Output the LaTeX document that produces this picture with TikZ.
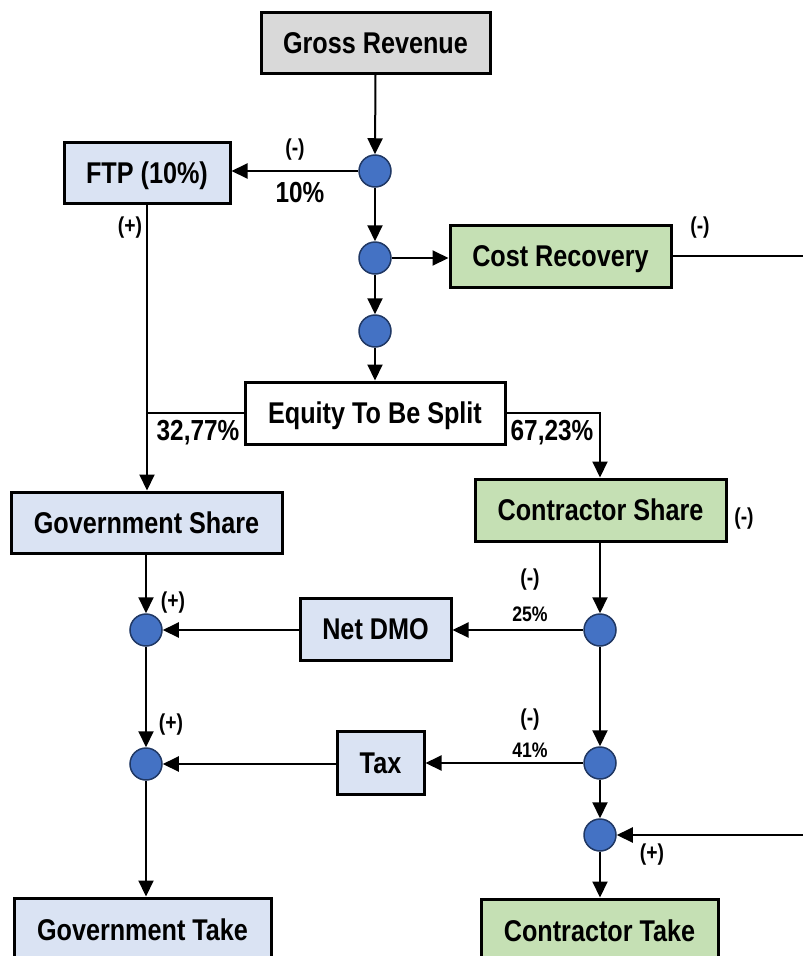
\documentclass[tikz,border=0pt]{standalone}
\usepackage{fontspec}
\setmainfont{Liberation Sans}[FakeStretch=0.84]
\usetikzlibrary{arrows.meta}
\definecolor{boxgray}{HTML}{D9D9D9}
\definecolor{boxblue}{HTML}{DAE3F3}
\definecolor{boxgreen}{HTML}{C5E0B4}
\definecolor{dotblue}{HTML}{4472C4}
\definecolor{dotedge}{HTML}{203864}
\begin{document}
\begin{tikzpicture}[x=1pt,y=-1pt,
  box/.style={draw=black, line width=3pt, inner sep=0pt, text height=21.5pt, text depth=0pt,
    font=\fontsize{30}{30}\selectfont\bfseries},
  dot/.style={circle, draw=dotedge, line width=1.5pt, fill=dotblue, minimum size=32pt, inner sep=0pt},
  link/.style={line width=2pt, -{Triangle[length=16pt,width=15pt]}},
  plain/.style={line width=2pt},
  small/.style={font=\fontsize{23}{23}\selectfont\bfseries, inner sep=0pt},
  pct/.style={font=\fontsize{21}{21}\selectfont\bfseries, inner sep=0pt},
  big/.style={font=\fontsize{29}{29}\selectfont\bfseries, inner sep=0pt}]
\clip (0,0) rectangle (803,956);
\fill[white] (0,0) rectangle (803,956);

% boxes
\node[box, fill=boxgray, minimum width=229pt, minimum height=61pt] (gr) at (375.5,42.5) {Gross Revenue};
\node[box, fill=boxblue, minimum width=166pt, minimum height=61pt] (ftp) at (147,172.5) {FTP (10\%)};
\node[box, fill=boxgreen, minimum width=221pt, minimum height=62pt] (cr) at (560.5,256) {Cost Recovery};
\node[box, fill=white, minimum width=260pt, minimum height=62pt] (eq) at (375,413) {Equity To Be Split};
\node[box, fill=boxblue, minimum width=271pt, minimum height=61pt] (gs) at (146.5,522.5) {Government Share};
\node[box, fill=boxgreen, minimum width=251pt, minimum height=62pt] (cs) at (600.5,510) {Contractor Share};
\node[box, fill=boxblue, minimum width=151pt, minimum height=62pt] (dmo) at (375.5,629) {Net DMO};
\node[box, fill=boxblue, minimum width=87pt, minimum height=63pt] (tax) at (380.5,762.5) {Tax};
\node[box, fill=boxblue, minimum width=257pt, minimum height=64pt] (gt) at (142.5,930) {Government Take};
\node[box, fill=boxgreen, minimum width=237pt, minimum height=64pt] (ct) at (599.5,931) {Contractor Take};

% junction dots
\node[dot] (c1) at (375,171) {};
\node[dot] (c2) at (375,258) {};
\node[dot] (c3) at (375,331) {};
\node[dot] (c4) at (146,630) {};
\node[dot] (c5) at (600,630) {};
\node[dot] (c6) at (146,764) {};
\node[dot] (c7) at (600,763) {};
\node[dot] (c8) at (600,835) {};

\coordinate (crout) at (803,256);
\coordinate (ctin) at (803,835);

% connectors
\draw[link] (gr.south) -- (c1.north);
\draw[link] (c1.west) -- (c1 -| ftp.east);
\draw[link] (c1.south) -- (c2.north);
\draw[link] (c2.east) -- (c2 -| cr.west);
\draw[link] (c2.south) -- (c3.north);
\draw[link] (c3.south) -- (eq.north);
\draw[plain] (cr.east) -- (crout);
\draw[link] (ftp.south) -- (ftp.south |- gs.north);
\draw[plain] (eq.west) -- (eq.west -| ftp.south);
\draw[link] (eq.east) -| (c5 |- cs.north);
\draw[link] (gs.south -| c4) -- (c4.north);
\draw[link] (cs.south -| c5) -- (c5.north);
\draw[link] (c5.west) -- (c5 -| dmo.east);
\draw[link] (dmo.west |- c4) -- (c4.east);
\draw[link] (c4.south) -- (c6.north);
\draw[link] (c5.south) -- (c7.north);
\draw[link] (c7.west) -- (c7 -| tax.east);
\draw[link] (tax.west |- c6) -- (c6.east);
\draw[link] (c7.south) -- (c8.north);
\draw[link] (ctin) -- (c8.east);
\draw[link] (c8.south) -- (c8 |- ct.north);
\draw[link] (c6.south) -- (c6 |- gt.north);

% labels
\node[small] (l1) at (295,150) {(-)};
\node[big] (l2) at (300,193) {10\%};
\node[small] (l3) at (700,228) {(-)};
\node[small] (l4) at (130,228) {(+)};
\node[big] (l5) at (198,433) {32,77\%};
\node[big] (l6) at (552,433) {67,23\%};
\node[small] (l7) at (744,519) {(-)};
\node[small] (l8) at (173,603) {(+)};
\node[small] (l9) at (530,580) {(-)};
\node[pct] (l10) at (530,614) {25\%};
\node[small] (l11) at (171,725) {(+)};
\node[small] (l12) at (530,720) {(-)};
\node[pct] (l13) at (530,750) {41\%};
\node[small] (l14) at (652,855) {(+)};
\end{tikzpicture}
\end{document}
